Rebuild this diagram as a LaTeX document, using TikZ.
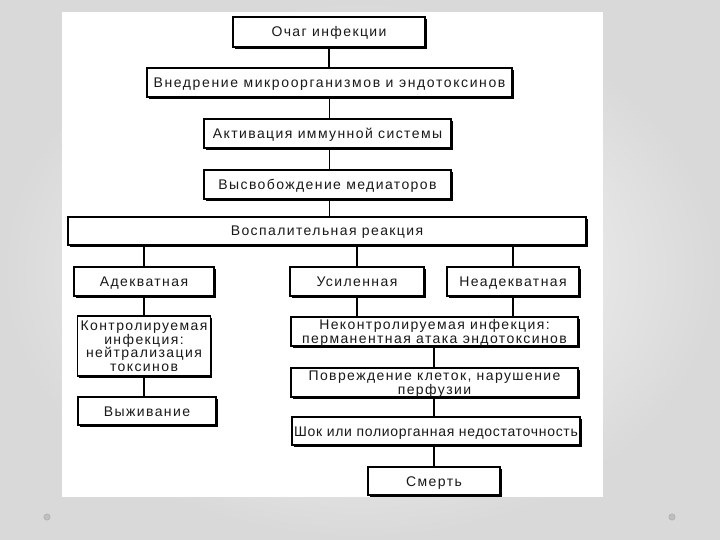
\documentclass[tikz,border=0pt]{standalone}
\usepackage{fontspec}
\setmainfont{Liberation Sans}[LetterSpace=10]
\usetikzlibrary{shadows}
\tikzset{
  box/.style={draw=black, line width=1.3pt, fill=white, inner sep=0pt, align=center,
    font=\fontsize{14pt}{13.6pt}\selectfont, text=black!90, text depth=0pt,
    drop shadow={shadow xshift=1.6pt, shadow yshift=-1.6pt, fill=black, opacity=1}},
  one/.style={text height=10pt},
  link/.style={line width=1.7pt, draw=black}
}
\begin{document}
\begin{tikzpicture}[x=1pt,y=-1pt]
\useasboundingbox (0,0) rectangle (720,540);
\shade[inner color=white, outer color=gray!30] (0,0) rectangle (720,540);
\fill[white] (62,12) rectangle (603,497);
\filldraw[fill=gray!50, draw=gray!70] (47,517) circle (3.2);
\filldraw[fill=gray!50, draw=gray!70] (672,517) circle (3.2);

\node[box, one, minimum width=192pt, minimum height=30pt] (b1) at (329,32) {Очаг инфекции};
\node[box, one, minimum width=365pt, minimum height=29pt] (b2) at (329.5,82.5) {\addfontfeatures{LetterSpace=11.5}Внедрение микроорганизмов и эндотоксинов};
\node[box, one, minimum width=247pt, minimum height=29pt] (b3) at (327.5,133.5) {Активация иммунной системы};
\node[box, one, minimum width=247pt, minimum height=29pt] (b4) at (327.5,184.5) {Высвобождение медиаторов};
\node[box, one, minimum width=518pt, minimum height=28pt] (b5) at (327,231) {Воспалительная реакция};
\node[box, one, minimum width=140pt, minimum height=29pt] (b6) at (144,281.5) {Адекватная};
\node[box, one, minimum width=134pt, minimum height=29pt] (b7) at (357,281.5) {Усиленная};
\node[box, one, minimum width=132pt, minimum height=29pt] (b8) at (513,281.5) {Неадекватная};
\node[box, minimum width=133pt, minimum height=60pt] (b9) at (144,346) {Контролируемая\\инфекция:\\нейтрализация\\токсинов};
\node[box, minimum width=287pt, minimum height=29pt] (b10) at (434.5,331.5) {Неконтролируемая инфекция:\\перманентная атака эндотоксинов};
\node[box, minimum width=287pt, minimum height=29pt] (b11) at (434.5,382.5) {Повреждение клеток, нарушение\\перфузии};
\node[box, one, minimum width=138pt, minimum height=28pt] (b12) at (147,411) {Выживание};
\node[box, one, minimum width=288pt, minimum height=28pt] (b13) at (436,431) {\addfontfeatures{LetterSpace=5}Шок или полиорганная недостаточность};
\node[box, one, minimum width=132pt, minimum height=28pt] (b14) at (434,481) {Смерть};

\draw[link] (b1.south) -- (b1.south |- b2.north);
\draw[link] (b2.south) -- (b2.south |- b3.north);
\draw[link] (b3.south -| b2.south) -- (b2.south |- b4.north);
\draw[link] (b4.south -| b2.south) -- (b2.south |- b5.north);
\draw[link] (b6.north) -- (b6.north |- b5.south);
\draw[link] (b7.north) -- (b7.north |- b5.south);
\draw[link] (b8.north) -- (b8.north |- b5.south);
\draw[link] (b6.south) -- (b6.south |- b9.north);
\draw[link] (b9.south) -- (b9.south |- b12.north);
\draw[link] (b7.south) -- (b7.south |- b10.north);
\draw[link] (b8.south) -- (b8.south |- b10.north);
\draw[link] (b14.north |- b10.south) -- (b14.north |- b11.north);
\draw[link] (b14.north |- b11.south) -- (b14.north |- b13.north);
\draw[link] (b14.north |- b13.south) -- (b14.north);
\end{tikzpicture}
\end{document}
